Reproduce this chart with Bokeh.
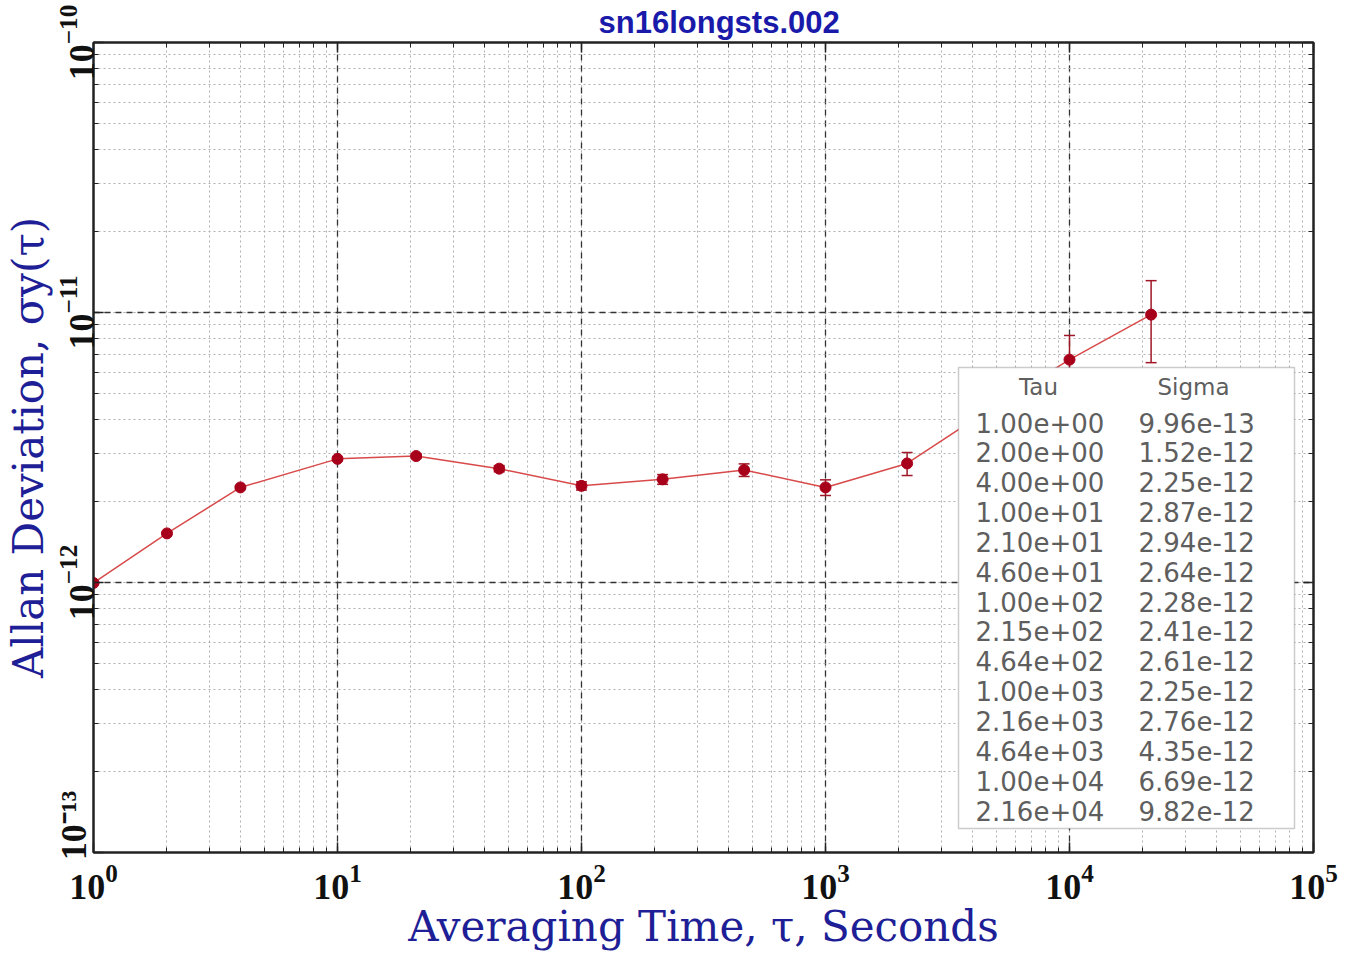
import math
from bokeh.plotting import figure
from bokeh.models import (LogAxis, LogTicker, Whisker, ColumnDataSource, Label,
                          BoxAnnotation, TeeHead, CustomJSTickFormatter)
from bokeh.embed import file_html
from bokeh.resources import INLINE

# ---------------- data ----------------
tau = [1, 2, 4, 10, 21, 46, 100, 215, 464, 1000, 2160, 4640, 10000, 21600]
sigma = [9.96e-13, 1.52e-12, 2.25e-12, 2.87e-12, 2.94e-12, 2.64e-12, 2.28e-12,
         2.41e-12, 2.61e-12, 2.25e-12, 2.76e-12, 4.35e-12, 6.69e-12, 9.82e-12]
sigma_err = [0.005e-12, 0.012e-12, 0.025e-12, 0.04e-12, 0.06e-12, 0.07e-12, 0.08e-12,
             0.10e-12, 0.14e-12, 0.15e-12, 0.27e-12, 0.60e-12, 1.53e-12, 3.30e-12]
y_start, y_end = 1e-13, 1e-10
x_start, x_end = 1, 1e5
table_headers = ["Tau", "Sigma"]
title_text = "sn16longsts.002"
x_label = "Averaging Time, τ, Seconds"
y_label = "Allan Deviation, σy(τ)"
bottom_y_tick_text = "10⁻¹³"

# ---------------- layout ----------------
ML, MT = 93, 42
FW, FH = 1220, 810
MR, MB = 26, 99
FL, FB = ML, MT + FH


def fx(img_x):
    return img_x - FL


def fy(img_y):
    return FB - img_y


BLUE = "#1e1e96"
AXC = "#222222"

p = figure(frame_width=FW, frame_height=FH, x_axis_type="log", y_axis_type="log",
           x_range=(x_start, x_end), y_range=(y_start, y_end),
           output_backend="svg", toolbar_location=None, title=title_text,
           min_border_left=ML, min_border_right=MR, min_border_top=MT, min_border_bottom=MB)
p.background_fill_color = "white"
p.border_fill_color = "white"
p.outline_line_color = AXC
p.outline_line_width = 2

bottom_ax = p.below[0]
left_ax = p.left[0]
bottom_ax.ticker.num_minor_ticks = 10
left_ax.ticker.num_minor_ticks = 10

blank = CustomJSTickFormatter(code="return ''")
top_ax = LogAxis(ticker=LogTicker(num_minor_ticks=10), formatter=blank)
right_ax = LogAxis(ticker=LogTicker(num_minor_ticks=10), formatter=blank)
p.add_layout(top_ax, "above")
p.add_layout(right_ax, "right")

for ax in [bottom_ax, left_ax, top_ax, right_ax]:
    ax.major_tick_in = 10
    ax.major_tick_out = 0
    ax.minor_tick_in = 5
    ax.minor_tick_out = 0
    ax.axis_line_color = AXC
    ax.axis_line_width = 2
    ax.major_tick_line_color = AXC
    ax.minor_tick_line_color = AXC
    ax.major_tick_line_width = 1.5
    ax.minor_tick_line_width = 1
    ax.major_label_text_font = "Liberation Serif"
    ax.major_label_text_font_style = "bold"
    ax.major_label_text_font_size = "36px"
    ax.major_label_text_color = "#111111"

for ax in [top_ax, right_ax]:
    ax.major_label_text_font_size = "1px"
    ax.major_label_standoff = 0

bottom_ax.major_label_standoff = 12
left_ax.major_label_standoff = 0
left_ax.major_label_orientation = "parallel"
# lowest y label sits a little higher in the original (no-break spaces shift it)
left_ax.major_label_overrides = {y_start: "\u00a0" * 6 + bottom_y_tick_text}

bottom_ax.axis_label = x_label
bottom_ax.axis_label_text_font = "DejaVu Serif"
bottom_ax.axis_label_text_font_style = "normal"
bottom_ax.axis_label_text_font_size = "42px"
bottom_ax.axis_label_text_color = BLUE
bottom_ax.axis_label_standoff = 0

left_ax.axis_label = y_label
left_ax.axis_label_text_font = "DejaVu Serif"
left_ax.axis_label_text_font_style = "normal"
left_ax.axis_label_text_font_size = "42px"
left_ax.axis_label_text_color = BLUE
left_ax.axis_label_standoff = -2

p.title.align = "left"
p.title.offset = 505
p.title.standoff = 5
p.title.text_font = "Liberation Sans"
p.title.text_font_style = "bold"
p.title.text_font_size = "31px"
p.title.text_color = "#1a1aaa"

for g in [p.xgrid[0], p.ygrid[0]]:
    g.grid_line_color = "#333333"
    g.grid_line_dash = "6 5"
    g.grid_line_width = 1.3
    g.minor_grid_line_color = "#b0b0b0"
    g.minor_grid_line_dash = "2 3"
    g.minor_grid_line_width = 1

# ---------------- data marks ----------------
src = ColumnDataSource(dict(
    tau=tau, sigma=sigma,
    upper=[s + e for s, e in zip(sigma, sigma_err)],
    lower=[s - e for s, e in zip(sigma, sigma_err)],
))
ERR = "#a01828"
wh = Whisker(base="tau", upper="upper", lower="lower", source=src,
             line_color=ERR, line_width=1.5,
             upper_head=TeeHead(size=11, line_color=ERR, line_width=1.5),
             lower_head=TeeHead(size=11, line_color=ERR, line_width=1.5))
p.add_layout(wh)
p.line("tau", "sigma", source=src, line_color="#d84a4a", line_width=1.5)
p.scatter("tau", "sigma", source=src, size=11, fill_color="#a8001a", line_color="#a8001a")

# ---------------- table box ----------------
box = BoxAnnotation(left=fx(958), right=fx(1294), top=fy(367), bottom=fy(828),
                    left_units="screen", right_units="screen",
                    top_units="screen", bottom_units="screen",
                    fill_color="white", fill_alpha=1.0,
                    line_color="#555555", line_width=1.5, level="annotation")
p.add_layout(box)

TXT = "#5e5e5e"
tfont = "DejaVu Sans"
p.add_layout(Label(x=fx(1038), y=fy(386), x_units="screen", y_units="screen",
                   text=table_headers[0], text_align="center", text_baseline="middle",
                   text_font=tfont, text_font_size="23px", text_color=TXT))
p.add_layout(Label(x=fx(1193), y=fy(386), x_units="screen", y_units="screen",
                   text=table_headers[1], text_align="center", text_baseline="middle",
                   text_font=tfont, text_font_size="23px", text_color=TXT))
for i, (t, s) in enumerate(zip(tau, sigma)):
    yy = fy(422 + 29.85 * i)
    p.add_layout(Label(x=fx(975), y=yy, x_units="screen", y_units="screen",
                       text=f"{t:.2e}", text_align="left", text_baseline="middle",
                       text_font=tfont, text_font_size="26px", text_color=TXT))
    p.add_layout(Label(x=fx(1138), y=yy, x_units="screen", y_units="screen",
                       text=f"{s:.2e}", text_align="left", text_baseline="middle",
                       text_font=tfont, text_font_size="26px", text_color=TXT))

open("out.html", "w").write(file_html(p, INLINE))
